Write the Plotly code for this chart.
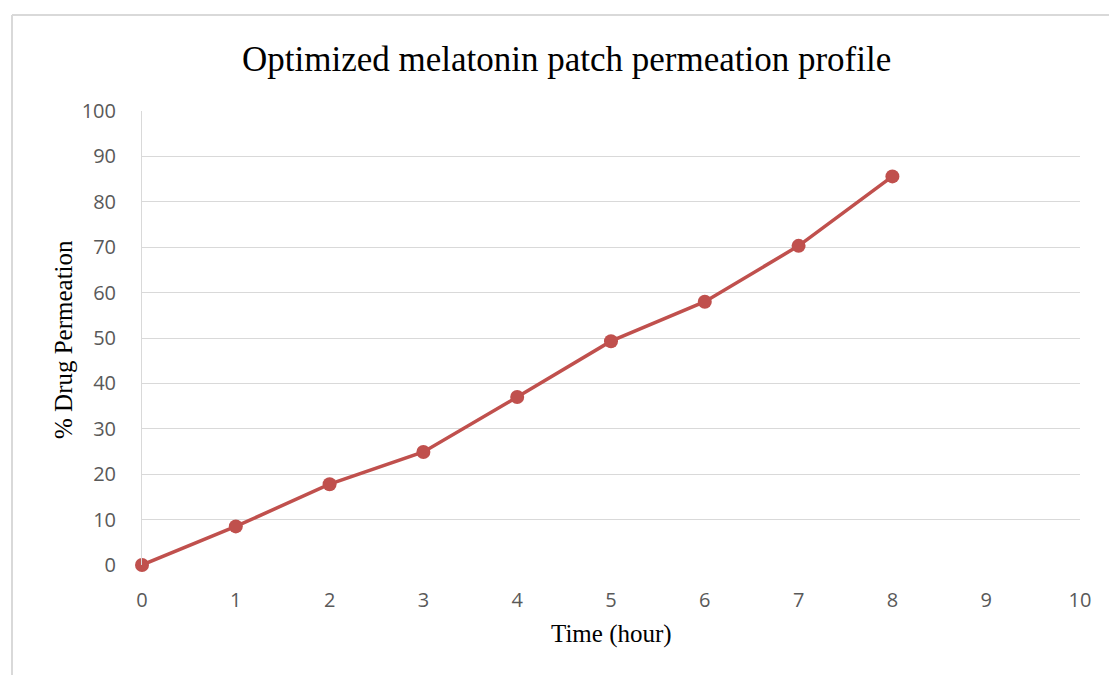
import plotly.graph_objects as go

# Permeation profile of the optimized melatonin patch
time_hours = [0, 1, 2, 3, 4, 5, 6, 7, 8]
drug_permeation = [0, 8.5, 17.8, 24.9, 37.0, 49.3, 58.0, 70.3, 85.6]

x_ticks = list(range(0, 11))
y_ticks = list(range(0, 101, 10))

W, H = 1109, 675
left, right, top, bottom = 142, 1080, 111, 565

series_color = "#C0504D"
grid_color = "#D9D9D9"
tick_font = dict(family="Open Sans, Liberation Sans, sans-serif", size=20, color="#595959")
serif = "Liberation Serif, Times New Roman, serif"

fig = go.Figure()
fig.add_trace(go.Scatter(
    x=time_hours,
    y=drug_permeation,
    mode="lines+markers",
    line=dict(color=series_color, width=3.5),
    marker=dict(color=series_color, size=14),
    cliponaxis=False,
    showlegend=False,
))

def px_x(p):
    return (p - left) / (right - left)

def px_y(p):
    return (bottom - p) / (bottom - top)

fig.update_layout(
    width=W,
    height=H,
    margin=dict(l=left, r=W - right, t=top, b=H - bottom, pad=0),
    paper_bgcolor="white",
    plot_bgcolor="white",
    xaxis=dict(
        range=[0, 10],
        tickvals=x_ticks,
        showgrid=False,
        zeroline=False,
        showline=False,
        ticks="outside",
        ticklen=17,
        tickcolor="rgba(0,0,0,0)",
        tickfont=tick_font,
        fixedrange=True,
    ),
    yaxis=dict(
        range=[0, 100],
        tickvals=y_ticks,
        showgrid=True,
        gridcolor=grid_color,
        gridwidth=1,
        zeroline=False,
        showline=True,
        linecolor=grid_color,
        linewidth=1,
        ticks="outside",
        ticklen=21,
        tickcolor="rgba(0,0,0,0)",
        tickfont=tick_font,
        fixedrange=True,
    ),
    annotations=[
        dict(text="Optimized melatonin patch permeation profile",
             xref="paper", yref="paper", x=px_x(566), y=px_y(59),
             xanchor="center", yanchor="middle", showarrow=False,
             font=dict(family=serif, size=35, color="black")),
        dict(text="Time (hour)",
             xref="paper", yref="paper", x=px_x(611), y=px_y(634),
             xanchor="center", yanchor="middle", showarrow=False,
             font=dict(family=serif, size=25, color="black")),
        dict(text="% Drug Permeation",
             xref="paper", yref="paper", x=px_x(63), y=px_y(340),
             xanchor="center", yanchor="middle", showarrow=False, textangle=-90,
             font=dict(family=serif, size=25, color="black")),
    ],
    shapes=[
        # chart frame (top and left edges)
        dict(type="line", xref="paper", yref="paper",
             x0=px_x(12), x1=px_x(W + 5), y0=px_y(15), y1=px_y(15),
             line=dict(color="#D9D9D9", width=2)),
        dict(type="line", xref="paper", yref="paper",
             x0=px_x(12), x1=px_x(12), y0=px_y(15), y1=px_y(H + 5),
             line=dict(color="#D9D9D9", width=2)),
    ],
)

fig.write_html("out.html")
